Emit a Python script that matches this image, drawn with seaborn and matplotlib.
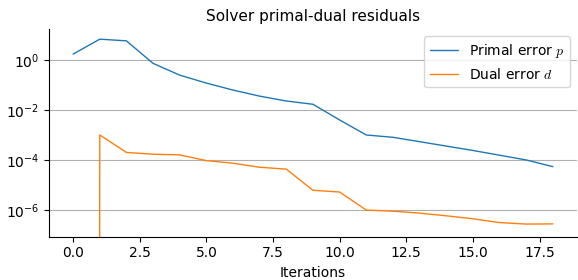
import numpy as np
import pandas as pd
import seaborn as sns
import matplotlib.pyplot as plt
from matplotlib import ticker

iterations = list(range(19))
primal = [1.74, 6.9, 5.9, 0.74, 0.25, 0.12, 0.063, 0.036, 0.023, 0.017, 0.004,
          1.0e-3, 8.1e-4, 5.4e-4, 3.6e-4, 2.4e-4, 1.55e-4, 1.0e-4, 5.4e-5]
dual = [0.0, 1.0e-3, 2.0e-4, 1.7e-4, 1.6e-4, 9.4e-5, 7.4e-5, 5.1e-5, 4.3e-5,
        6.1e-6, 5.2e-6, 9.8e-7, 8.9e-7, 7.4e-7, 5.8e-7, 4.4e-7, 3.1e-7, 2.7e-7, 2.75e-7]

sns.set_style("ticks")
plt.rcParams['font.family'] = ['DejaVu Sans']
plt.rcParams['mathtext.fontset'] = 'cm'
plt.rcParams['text.color'] = 'black'
plt.rcParams['axes.labelcolor'] = 'black'
plt.rcParams['xtick.color'] = 'black'
plt.rcParams['ytick.color'] = 'black'
plt.rcParams['axes.edgecolor'] = 'black'

fig = plt.figure(figsize=(5.78, 2.8), dpi=100)
ax = fig.add_axes([0.085, 0.155, 0.913, 0.74])

sns.lineplot(x=iterations, y=primal, ax=ax, color="#1f77b4", linewidth=1.0,
             label="Primal error $p$")
sns.lineplot(x=iterations, y=dual, ax=ax, color="#ff7f0e", linewidth=1.0,
             label="Dual error $d$")

ax.set_yscale("log")
ax.set_ylim(10 ** -7.07, 10 ** 1.23)
ax.set_xlim(-0.9, 18.9)
ax.yaxis.set_major_locator(ticker.FixedLocator([1e-6, 1e-4, 1e-2, 1e0]))
ax.yaxis.set_minor_locator(ticker.NullLocator())
ax.yaxis.set_major_formatter(ticker.LogFormatterMathtext())
ax.yaxis.grid(True, color="#b0b0b0", linewidth=0.8)
ax.set_axisbelow(True)
sns.despine(ax=ax)

ax.set_title("Solver primal-dual residuals", fontsize=11)
ax.set_xlabel("Iterations")
ax.legend(loc="upper right", fontsize=10)

fig.savefig("out.png", dpi=100)
